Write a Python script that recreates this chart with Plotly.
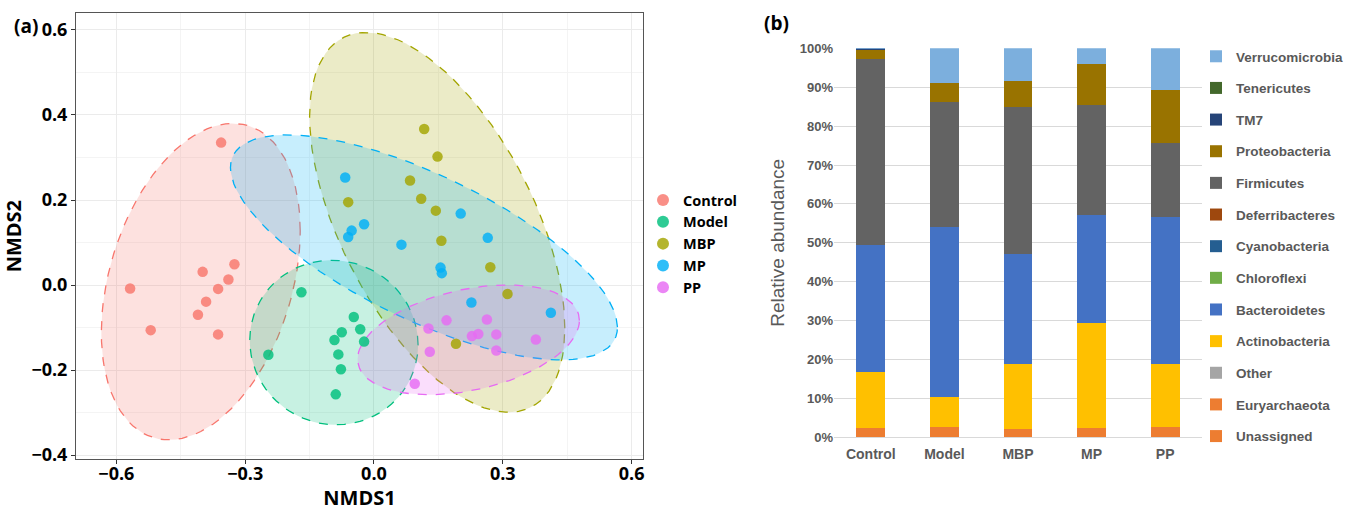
import numpy as np
import plotly.graph_objects as go

# ---------------- Panel (a): NMDS data ----------------
groups = ["Control", "Model", "MBP", "MP", "PP"]
colors = {"Control": "#F8766D", "Model": "#00BF7D", "MBP": "#A3A500",
          "MP": "#00B0F6", "PP": "#E76BF3"}

control_x = [-0.356, -0.325, -0.399, -0.339, -0.568, -0.363, -0.391, -0.410, -0.520, -0.363]
control_y = [0.335, 0.049, 0.031, 0.013, -0.008, -0.009, -0.039, -0.070, -0.106, -0.116]
model_x = [-0.169, -0.246, -0.047, -0.075, -0.092, -0.083, -0.077, -0.089, -0.032, -0.023]
model_y = [-0.017, -0.164, -0.075, -0.111, -0.129, -0.163, -0.198, -0.257, -0.104, -0.133]
mbp_x = [0.117, 0.148, 0.084, -0.060, 0.110, 0.144, 0.157, 0.271, 0.311, 0.191]
mbp_y = [0.367, 0.302, 0.246, 0.195, 0.203, 0.175, 0.104, 0.042, -0.021, -0.138]
mp_x = [-0.067, 0.202, -0.023, -0.052, -0.060, 0.064, 0.265, 0.155, 0.158, 0.227, 0.412]
mp_y = [0.253, 0.168, 0.143, 0.128, 0.113, 0.095, 0.111, 0.041, 0.028, -0.041, -0.065]
pp_x = [0.169, 0.263, 0.127, 0.228, 0.243, 0.285, 0.377, 0.285, 0.130, 0.095]
pp_y = [-0.083, -0.081, -0.102, -0.120, -0.115, -0.116, -0.128, -0.154, -0.157, -0.232]

nmds = {"Control": (control_x, control_y), "Model": (model_x, model_y),
        "MBP": (mbp_x, mbp_y), "MP": (mp_x, mp_y), "PP": (pp_x, pp_y)}

# ---------------- Panel (b): relative abundance (%) ----------------
samples = ["Control", "Model", "MBP", "MP", "PP"]
phyla = ["Unassigned", "Euryarchaeota", "Other", "Actinobacteria", "Bacteroidetes",
         "Chloroflexi", "Cyanobacteria", "Deferribacteres", "Firmicutes",
         "Proteobacteria", "TM7", "Tenericutes", "Verrucomicrobia"]
unassigned = [2.3, 2.6, 2.1, 2.5, 2.7]
euryarchaeota = [0.0, 0.0, 0.0, 0.0, 0.0]
other = [0.0, 0.0, 0.0, 0.0, 0.0]
actinobacteria = [14.6, 7.8, 16.7, 27.0, 16.1]
bacteroidetes = [32.5, 43.7, 28.2, 27.6, 37.8]
chloroflexi = [0.0, 0.0, 0.0, 0.0, 0.0]
cyanobacteria = [0.0, 0.0, 0.0, 0.0, 0.0]
deferribacteres = [0.0, 0.0, 0.0, 0.0, 0.0]
firmicutes = [47.8, 32.2, 38.0, 28.3, 19.0]
proteobacteria = [2.3, 4.9, 6.7, 10.6, 13.7]
tm7 = [0.3, 0.0, 0.0, 0.0, 0.0]
tenericutes = [0.0, 0.0, 0.0, 0.0, 0.0]
verrucomicrobia = [0.2, 8.8, 8.3, 4.0, 10.7]
abund = [unassigned, euryarchaeota, other, actinobacteria, bacteroidetes, chloroflexi,
         cyanobacteria, deferribacteres, firmicutes, proteobacteria, tm7, tenericutes,
         verrucomicrobia]
phylum_colors = ["#ED7D31", "#ED7D31", "#A5A5A5", "#FFC000", "#4472C4", "#70AD47",
                 "#255E91", "#9E480E", "#636363", "#997300", "#264478", "#43682B",
                 "#7CAFDD"]


def ellipse(xs, ys, level=0.95, segments=100):
    """Normal-theory confidence ellipse (as ggplot2 stat_ellipse(type='norm'))."""
    X = np.column_stack([xs, ys])
    n = X.shape[0]
    center = X.mean(axis=0)
    shape = np.cov(X.T)
    dfd = n - 1
    fq = (dfd / 2.0) * ((1 - level) ** (-2.0 / dfd) - 1)   # qf(level, 2, dfd)
    radius = np.sqrt(2 * fq)
    R = np.linalg.cholesky(shape).T
    ang = np.linspace(0, 2 * np.pi, segments + 1)
    circ = np.column_stack([np.cos(ang), np.sin(ang)])
    e = center + radius * (circ @ R)
    return e[:, 0], e[:, 1]


def rgba(hexc, a):
    h = hexc.lstrip("#")
    return "rgba(%d,%d,%d,%.3f)" % (int(h[0:2], 16), int(h[2:4], 16), int(h[4:6], 16), a)


fig = go.Figure()

for g in ["Control", "MBP", "Model", "MP", "PP"]:
    ex, ey = ellipse(*nmds[g])
    fig.add_trace(go.Scatter(x=ex, y=ey, mode="lines", fill="toself",
                             fillcolor=rgba(colors[g], 0.22),
                             line=dict(color=colors[g], width=1.3, dash="dash"),
                             hoverinfo="skip", showlegend=False,
                             xaxis="x", yaxis="y"))

for g in groups:
    xs, ys = nmds[g]
    fig.add_trace(go.Scatter(x=xs, y=ys, mode="markers", name=g,
                             marker=dict(color=colors[g], size=10.5, opacity=0.82),
                             xaxis="x", yaxis="y", legend="legend"))

nph = len(phyla)
for i, (name, vals, col) in enumerate(zip(phyla, abund, phylum_colors)):
    fig.add_trace(go.Bar(x=samples, y=vals, name=name,
                         marker=dict(color=col, line=dict(width=0)),
                         xaxis="x2", yaxis="y2", legend="legend2",
                         legendgroup=name, legendrank=nph - i))

W, H = 1354, 511
px = lambda v: v / W
py = lambda v: 1 - v / H

bold = dict(family="Open Sans", weight="bold", color="black")
xlgray = "#595959"

fig.update_layout(
    width=W, height=H, margin=dict(l=0, r=0, t=0, b=0),
    paper_bgcolor="white", plot_bgcolor="white",
    barmode="stack", bargap=0.61,
    xaxis=dict(domain=[px(76), px(643)], range=[-0.694, 0.6266], anchor="y",
               tickmode="linear", tick0=0, dtick=0.3, tickformat=".1f",
               showgrid=True, gridcolor="#EBEBEB", gridwidth=1,
               minor=dict(dtick=0.15, showgrid=True, gridcolor="#F4F4F4", gridwidth=1),
               zeroline=False, showline=True, mirror=True, linecolor="#555555", linewidth=1,
               ticks="outside", ticklen=4, tickcolor="#333333", ticklabelstandoff=-6,
               tickfont=dict(size=18, **bold), automargin=False,
               title=dict(text="NMDS1", font=dict(size=20, **bold), standoff=2)),
    yaxis=dict(domain=[py(459), py(13.3)], range=[-0.409, 0.639], anchor="x",
               tickmode="linear", tick0=0, dtick=0.2, tickformat=".1f",
               showgrid=True, gridcolor="#EBEBEB", gridwidth=1,
               minor=dict(dtick=0.1, showgrid=True, gridcolor="#F4F4F4", gridwidth=1),
               zeroline=False, showline=True, mirror=True, linecolor="#555555", linewidth=1,
               ticks="outside", ticklen=4, tickcolor="#333333",
               tickfont=dict(size=18, **bold), automargin=False,
               title=dict(text="NMDS2", font=dict(size=20, **bold), standoff=8)),
    xaxis2=dict(domain=[px(834), px(1202)], range=[-0.5, 4.5], anchor="y2",
                showline=True, linecolor="#D9D9D9", linewidth=1, ticks="",
                showgrid=False, zeroline=False, automargin=False, ticklabelstandoff=4,
                tickfont=dict(family="Liberation Sans", size=14, weight="bold", color=xlgray)),
    yaxis2=dict(domain=[py(437.3), py(48.3)], range=[0, 100], dtick=10, ticksuffix="%",
                anchor="x2", showgrid=True, gridcolor="#D9D9D9", gridwidth=1, zeroline=False,
                showline=False, ticks="", automargin=False,
                tickfont=dict(family="Liberation Sans", size=13, weight="bold", color=xlgray),
                title=dict(text="Relative abundance",
                           font=dict(family="Liberation Sans", size=19, color=xlgray),
                           standoff=10)),
    legend=dict(x=px(643), y=py(184), xanchor="left", yanchor="top",
                bgcolor="rgba(0,0,0,0)", font=dict(size=14.5, **bold),
                itemsizing="constant", tracegroupgap=0),
    legend2=dict(x=px(1196), y=py(41), xanchor="left", yanchor="top",
                 bgcolor="rgba(0,0,0,0)", traceorder="grouped",
                 tracegroupgap=11.1,
                 font=dict(family="Liberation Sans", size=13.5, weight="bold", color=xlgray)),
    annotations=[
        dict(text="(a)", x=px(12), y=py(26), xref="paper", yref="paper",
             xanchor="left", yanchor="middle", showarrow=False,
             font=dict(size=19, **bold)),
        dict(text="(b)", x=px(762), y=py(23), xref="paper", yref="paper",
             xanchor="left", yanchor="middle", showarrow=False,
             font=dict(size=19, **bold)),
    ],
)

fig.write_html("out.html", config={"displayModeBar": False},
               post_script="document.body.style.margin='0';")
